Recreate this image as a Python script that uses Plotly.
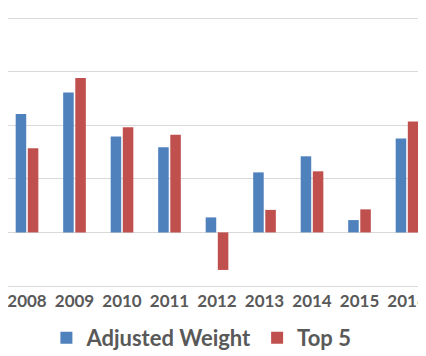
import plotly.graph_objects as go

years = ["2008", "2009", "2010", "2011", "2012", "2013", "2014", "2015", "2016"]
adjusted_weight = [2.21, 2.61, 1.79, 1.59, 0.28, 1.12, 1.42, 0.23, 1.75]
top5 = [1.57, 2.88, 1.96, 1.82, -0.70, 0.42, 1.14, 0.43, 2.07]

fig = go.Figure()
fig.add_trace(go.Bar(x=years, y=adjusted_weight, name="Adjusted Weight",
                     marker=dict(color="#4F81BD", line=dict(width=0))))
fig.add_trace(go.Bar(x=years, y=top5, name="Top 5",
                     marker=dict(color="#C0504D", line=dict(width=0))))

fig.update_layout(
    width=426, height=356,
    margin=dict(l=0, r=0, t=0, b=78, autoexpand=False),
    paper_bgcolor="white", plot_bgcolor="white",
    barmode="group", bargap=0.49, bargroupgap=0.13,
    font=dict(family="Lato", color="#595959"),
    showlegend=True,
    legend=dict(orientation="h", xref="container", yref="container",
                x=0.454, xanchor="center", y=0.073, yanchor="middle",
                font=dict(size=22, family="Lato", color="#595959", weight="bold"),
                itemwidth=30, tracegroupgap=0),
)
fig.update_xaxes(type="category", range=[-0.4, 8.568], showgrid=False, automargin=False,
                 showline=True, linecolor="#d9d9d9", linewidth=1,
                 ticks="", tickfont=dict(size=17, family="Lato", color="#595959", weight="bold"),
                 fixedrange=True)
fig.update_yaxes(range=[-1, 4.187], dtick=1, tick0=0, showgrid=True, gridcolor="#d9d9d9",
                 gridwidth=1, zeroline=True, zerolinecolor="#d9d9d9", zerolinewidth=1,
                 showticklabels=False, ticks="", fixedrange=True, automargin=False)

fig.write_html("out.html")
